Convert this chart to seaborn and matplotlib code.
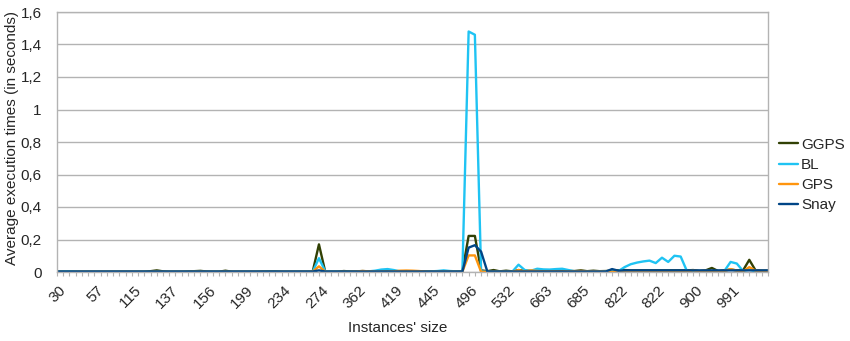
import numpy as np
import pandas as pd
import matplotlib
matplotlib.use("Agg")
import matplotlib.pyplot as plt
import matplotlib.transforms as mtransforms
from matplotlib.ticker import FuncFormatter, FixedLocator
import seaborn as sns

# Tick labels shown on the x axis (one every six instances)
size_labels = ["30", "57", "115", "137", "156", "199", "234", "274", "362", "419",
               "445", "496", "532", "663", "685", "822", "822", "900", "991"]
label_step = 6

# Average execution times (seconds) per instance, in instance order
ggps = [0.002, 0.002, 0.003, 0.002, 0.002, 0.002, 0.002, 0.002, 0.002, 0.002,
        0.002, 0.002, 0.002, 0.002, 0.002, 0.005, 0.010, 0.004, 0.002, 0.002,
        0.002, 0.003, 0.005, 0.007, 0.003, 0.002, 0.002, 0.008, 0.002, 0.002,
        0.002, 0.002, 0.002, 0.003, 0.004, 0.004, 0.002, 0.002, 0.002, 0.002,
        0.002, 0.003, 0.170, 0.003, 0.002, 0.002, 0.006, 0.003, 0.004, 0.006,
        0.004, 0.003, 0.003, 0.003, 0.003, 0.003, 0.003, 0.003, 0.003, 0.003,
        0.003, 0.003, 0.003, 0.003, 0.003, 0.005, 0.222, 0.222, 0.010, 0.005,
        0.012, 0.004, 0.008, 0.004, 0.012, 0.008, 0.006, 0.006, 0.005, 0.006,
        0.006, 0.005, 0.006, 0.006, 0.010, 0.005, 0.008, 0.005, 0.006, 0.008,
        0.010, 0.012, 0.010, 0.010, 0.010, 0.010, 0.010, 0.010, 0.010, 0.010,
        0.010, 0.010, 0.012, 0.006, 0.010, 0.025, 0.006, 0.010, 0.015, 0.010,
        0.010, 0.075, 0.010, 0.008, 0.008]

bl = [0.002, 0.004, 0.005, 0.002, 0.001, 0.001, 0.001, 0.001, 0.001, 0.001,
      0.001, 0.001, 0.001, 0.001, 0.001, 0.001, 0.002, 0.001, 0.001, 0.001,
      0.001, 0.001, 0.002, 0.002, 0.001, 0.001, 0.001, 0.002, 0.001, 0.001,
      0.001, 0.001, 0.001, 0.001, 0.002, 0.002, 0.001, 0.001, 0.001, 0.001,
      0.001, 0.002, 0.085, 0.005, 0.003, 0.002, 0.002, 0.002, 0.003, 0.003,
      0.004, 0.008, 0.015, 0.018, 0.012, 0.004, 0.003, 0.003, 0.003, 0.003,
      0.004, 0.006, 0.010, 0.006, 0.004, 0.003, 1.480, 1.460, 0.003, 0.002,
      0.002, 0.002, 0.002, 0.002, 0.045, 0.012, 0.008, 0.020, 0.016, 0.015,
      0.018, 0.020, 0.012, 0.004, 0.004, 0.004, 0.004, 0.004, 0.004, 0.004,
      0.005, 0.030, 0.048, 0.058, 0.065, 0.070, 0.055, 0.088, 0.062, 0.100,
      0.095, 0.006, 0.004, 0.004, 0.004, 0.004, 0.004, 0.006, 0.062, 0.052,
      0.006, 0.015, 0.003, 0.003, 0.003]

gps = [0.001, 0.001, 0.001, 0.001, 0.001, 0.001, 0.001, 0.001, 0.001, 0.001,
       0.001, 0.001, 0.001, 0.001, 0.001, 0.001, 0.002, 0.001, 0.001, 0.001,
       0.001, 0.001, 0.002, 0.002, 0.001, 0.001, 0.001, 0.002, 0.001, 0.001,
       0.001, 0.001, 0.001, 0.001, 0.001, 0.001, 0.001, 0.001, 0.001, 0.001,
       0.001, 0.002, 0.035, 0.002, 0.001, 0.001, 0.002, 0.002, 0.003, 0.006,
       0.004, 0.002, 0.002, 0.002, 0.004, 0.008, 0.009, 0.008, 0.006, 0.003,
       0.002, 0.002, 0.002, 0.002, 0.002, 0.002, 0.102, 0.102, 0.001, 0.001,
       0.002, 0.002, 0.002, 0.002, 0.012, 0.004, 0.010, 0.006, 0.004, 0.004,
       0.004, 0.004, 0.004, 0.004, 0.006, 0.004, 0.004, 0.004, 0.002, 0.000,
       0.004, 0.004, 0.004, 0.004, 0.004, 0.004, 0.004, 0.004, 0.004, 0.004,
       0.004, 0.004, 0.010, 0.004, 0.008, 0.004, 0.004, 0.006, 0.018, 0.008,
       0.004, 0.030, 0.008, 0.006, 0.006]

snay = [0.003, 0.003, 0.003, 0.003, 0.003, 0.003, 0.003, 0.003, 0.003, 0.003,
        0.003, 0.003, 0.003, 0.003, 0.003, 0.003, 0.003, 0.003, 0.003, 0.003,
        0.003, 0.003, 0.003, 0.003, 0.003, 0.003, 0.003, 0.003, 0.003, 0.003,
        0.003, 0.003, 0.003, 0.003, 0.003, 0.003, 0.003, 0.003, 0.003, 0.003,
        0.003, 0.003, 0.010, 0.003, 0.003, 0.003, 0.003, 0.003, 0.003, 0.003,
        0.003, 0.003, 0.003, 0.003, 0.003, 0.003, 0.003, 0.003, 0.003, 0.003,
        0.003, 0.003, 0.003, 0.003, 0.003, 0.003, 0.150, 0.165, 0.125, 0.003,
        0.003, 0.003, 0.003, 0.003, 0.003, 0.003, 0.003, 0.003, 0.003, 0.003,
        0.003, 0.003, 0.003, 0.003, 0.003, 0.003, 0.003, 0.003, 0.003, 0.018,
        0.008, 0.010, 0.010, 0.010, 0.010, 0.010, 0.010, 0.010, 0.010, 0.010,
        0.010, 0.010, 0.010, 0.010, 0.010, 0.010, 0.010, 0.010, 0.010, 0.010,
        0.010, 0.010, 0.010, 0.010, 0.010]

series_names = ["GGPS", "BL", "GPS", "Snay"]
series_colors = ["#314004", "#1fc3f3", "#ff950e", "#004586"]

n = len(ggps)
frames = []
for name, vals in zip(series_names, [ggps, bl, gps, snay]):
    frames.append(pd.DataFrame({"instance": np.arange(n), "time": vals, "algo": name}))
df = pd.concat(frames, ignore_index=True)

sns.set_theme(style="white")
plt.rcParams["font.family"] = ["Liberation Sans", "DejaVu Sans"]
fs = 11

fig = plt.figure(figsize=(8.5, 3.41), dpi=100)
ax = fig.add_axes([57 / 850, 1 - 272 / 341, (768 - 57) / 850, (272 - 12) / 341])

sns.lineplot(data=df, x="instance", y="time", hue="algo", hue_order=series_names,
             palette=dict(zip(series_names, series_colors)), linewidth=1.7,
             sort=False, ax=ax, legend=True)

grid_color = "#b3b3b3"
ax.set_xlim(0, n - 1)
ax.set_ylim(0, 1.6)
ax.set_yticks(np.arange(0, 1.61, 0.2))
ax.yaxis.set_major_formatter(FuncFormatter(lambda v, p: f"{v:.1f}".rstrip("0").rstrip(".").replace(".", ",")))
ax.yaxis.grid(True, color=grid_color, linewidth=1)
ax.set_axisbelow(True)

ax.xaxis.set_major_locator(FixedLocator(np.arange(0, len(size_labels) * label_step, label_step)))
ax.set_xticklabels(size_labels, rotation=45, ha="right", va="top", rotation_mode="anchor")
ax.xaxis.set_minor_locator(FixedLocator(np.arange(n)))
ax.tick_params(axis="x", which="both", bottom=True, length=3, width=0.8, color=grid_color,
               labelsize=fs, pad=5)
ax.tick_params(axis="y", left=False, labelsize=fs, pad=5)

# nudge the slanted size labels so their ends sit just right of each tick
shift = mtransforms.ScaledTranslation(2 / 100, 0, fig.dpi_scale_trans)
for lbl in ax.get_xticklabels():
    lbl.set_transform(lbl.get_transform() + shift)

for s in ax.spines.values():
    s.set_color(grid_color)
    s.set_linewidth(1)

ax.set_xlabel("")
ax.set_ylabel("")
fig.text(398 / 850, 1 - 328 / 341, "Instances' size", ha="center", va="center", fontsize=fs)
fig.text(12 / 850, 1 - 138 / 341, "Average execution times (in seconds)", rotation=90,
         ha="center", va="center", fontsize=fs)

handles, labels = ax.get_legend_handles_labels()
ax.get_legend().remove()
fig.legend(handles, labels, loc="center left", bbox_to_anchor=(779 / 850, 1 - 175 / 341),
           frameon=False, fontsize=fs, handlelength=1.25, handletextpad=0.2,
           labelspacing=0.4, borderaxespad=0, borderpad=0)

fig.savefig("out.png", dpi=100)
